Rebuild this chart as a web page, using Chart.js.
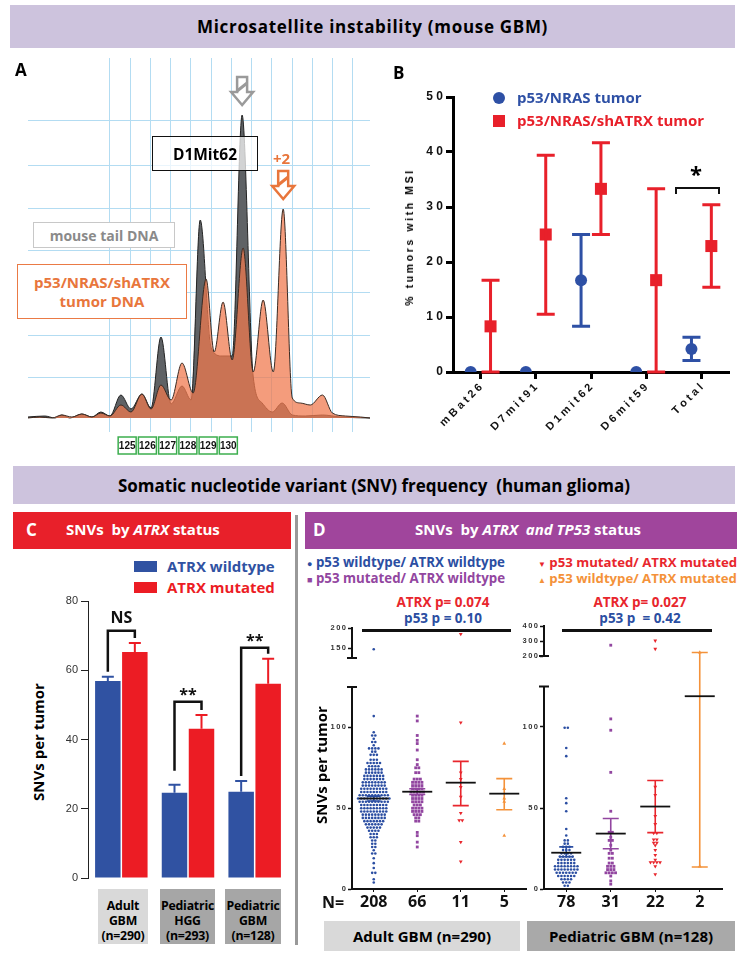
<!DOCTYPE html>
<html><head><meta charset="utf-8">
<script src="https://cdn.jsdelivr.net/npm/chart.js@4.4.1/dist/chart.umd.min.js"></script>
<style>
body{margin:0;background:#fff;font-family:'Open Sans',sans-serif;}
#page{position:relative;width:745px;height:961px;overflow:hidden;background:#fff;}
.a{position:absolute;white-space:nowrap;}
.cv{position:absolute;}
.rot{transform:translate(-50%,-50%) rotate(-90deg);}
.b{font-weight:700;}
.box{position:absolute;box-sizing:border-box;display:flex;align-items:center;justify-content:center;text-align:center;font-weight:700;}
</style></head><body><div id="page">

<div class="box" style="left:10px;top:5px;width:725px;height:43px;background:#cdc3dd;font-size:17px;letter-spacing:0.7px">Microsatellite instability (mouse GBM)</div>

<div class="cv" style="left:0;top:55px;width:370px;height:402px"><canvas id="cA"></canvas></div>
<div class="cv" style="left:380px;top:55px;width:365px;height:380px"><canvas id="cB"></canvas></div>

<div class="a b" style="left:15px;top:58px;font-size:17px">A</div>
<div class="a b" style="left:393px;top:61px;font-size:17px">B</div>

<div class="box" style="left:152px;top:136px;width:106px;height:35px;border:1.5px solid #111;background:rgba(255,255,255,0.72);font-size:15.5px">D1Mit62</div>
<div class="box" style="left:33px;top:222px;width:142px;height:26px;border:1.5px solid #c8c8c8;background:#fff;color:#8a8a8a;font-size:14px">mouse tail DNA</div>
<div class="box" style="left:17px;top:264px;width:170px;height:55px;border:1.5px solid #ea7a45;background:#fff;color:#e8763c;font-size:15px;line-height:19px">p53/NRAS/shATRX<br>tumor DNA</div>
<div class="a b" style="left:273px;top:148px;font-size:15px;color:#e8763c">+2</div>

<div class="a" style="left:493px;top:92px;width:12px;height:12px;border-radius:50%;background:#2e50a5"></div>
<div class="a b" style="left:517px;top:87px;font-size:15px;color:#2e50a5">p53/NRAS tumor</div>
<div class="a" style="left:493px;top:115px;width:12px;height:12px;background:#e8202a"></div>
<div class="a b" style="left:517px;top:110px;font-size:15px;color:#e8202a">p53/NRAS/shATRX tumor</div>
<div class="a rot" style="left:409px;top:237px;font:700 10.5px 'Liberation Sans';letter-spacing:2.6px">% tumors with MSI</div>
<div class="a" style="left:675px;top:187px;width:41px;height:5px;border:2.5px solid #111;border-bottom:none"></div>
<div class="a b" style="left:690px;top:158px;font-size:22px">*</div>

<div class="box" style="left:13px;top:466px;width:722px;height:38px;background:#cdc3dd;font-size:17px;">Somatic nucleotide variant (SNV) frequency&nbsp; (human glioma)</div>

<div class="a" style="left:13px;top:512px;width:278px;height:37px;background:#e8202a"></div>
<div class="a b" style="left:26px;top:518px;font-size:17px;color:#fff">C</div>
<div class="a b" style="left:66px;top:519px;font-size:15px;color:#fff">SNVs&nbsp; by <i>ATRX</i> status</div>

<div class="a" style="left:305px;top:512px;width:432px;height:37px;background:#a0459c"></div>
<div class="a b" style="left:313px;top:518px;font-size:17px;color:#fff">D</div>
<div class="a b" style="left:415px;top:519px;font-size:15px;color:#fff">SNVs&nbsp; by <i>ATRX&nbsp; and TP53</i> status</div>

<div class="a" style="left:295px;top:515px;width:3px;height:430px;background:#999"></div>

<div class="a" style="left:134px;top:561px;width:23px;height:11px;background:#3052a2"></div>
<div class="a b" style="left:167px;top:556px;font-size:15px;color:#3052a2">ATRX wildtype</div>
<div class="a" style="left:134px;top:582px;width:23px;height:11px;background:#ec1c24"></div>
<div class="a b" style="left:167px;top:577px;font-size:15px;color:#ec1c24">ATRX mutated</div>
<div class="a rot b" style="left:38px;top:742px;font-size:15px">SNVs per tumor</div>

<div class="cv" style="left:13px;top:590px;width:285px;height:300px"><canvas id="cC"></canvas></div>

<div id="cohortBoxes"></div>

<div class="a b" style="left:307px;top:553px;font-size:13.3px;color:#2b4ea2"><span style="font-size:9px">&#9679;</span> p53 wildtype/ ATRX wildtype</div>
<div class="a b" style="left:307px;top:569px;font-size:13.3px;color:#9246a0"><span style="font-size:9px">&#9632;</span> p53 mutated/ ATRX wildtype</div>
<div class="a b" style="left:538px;top:553px;font-size:13.2px;color:#e8262d"><span style="font-size:8px">&#9660;</span> p53 mutated/ ATRX mutated</div>
<div class="a b" style="left:538px;top:569px;font-size:13.2px;color:#f4923a"><span style="font-size:8px">&#9650;</span> p53 wildtype/ ATRX mutated</div>

<div class="box" style="left:363px;top:593px;width:160px;height:18px;font-size:13.5px;color:#e8262d">ATRX p= 0.074</div>
<div class="box" style="left:363px;top:609px;width:160px;height:18px;font-size:13.5px;color:#2b4ea2">p53 p = 0.10</div>
<div class="box" style="left:560px;top:593px;width:160px;height:18px;font-size:13.5px;color:#e8262d">ATRX p= 0.027</div>
<div class="box" style="left:560px;top:609px;width:160px;height:18px;font-size:13.5px;color:#2b4ea2">p53 p&nbsp; = 0.42</div>
<div class="a" style="left:362px;top:629px;width:149px;height:2.5px;background:#111"></div>
<div class="a" style="left:562px;top:629px;width:150px;height:2.5px;background:#111"></div>

<div class="cv" style="left:300px;top:620px;width:230px;height:63px"><canvas id="cDLu"></canvas></div>
<div class="cv" style="left:300px;top:680px;width:230px;height:230px"><canvas id="cDLl"></canvas></div>
<div class="cv" style="left:505px;top:618px;width:222px;height:62px"><canvas id="cDRu"></canvas></div>
<div class="cv" style="left:505px;top:680px;width:222px;height:230px"><canvas id="cDRl"></canvas></div>

<div class="a rot b" style="left:321px;top:765px;font-size:15px">SNVs per tumor</div>
<div class="a b" style="left:322px;top:891px;font-size:16px;color:#111">N=</div>

<div class="box" style="left:324px;top:921px;width:196px;height:30px;background:#d9d9d9;font-size:15px">Adult GBM (n=290)</div>
<div class="box" style="left:527px;top:921px;width:208px;height:30px;background:#a9a9a9;font-size:15px">Pediatric GBM (n=128)</div>

</div>
<script>
Chart.defaults.font.family = "'Liberation Sans', Arial, sans-serif";
Chart.defaults.animation = false;
Chart.defaults.responsive = true;
Chart.defaults.maintainAspectRatio = false;
Chart.defaults.plugins.legend.display = false;
Chart.defaults.plugins.tooltip.enabled = false;

// ============ A: D1Mit62 electropherogram ============
const sizeLabels = [125, 126, 127, 128, 129, 130];
// [size (bp), signal]
const tailTrace = [[120.09,1],[120.93,2],[121.43,0],[121.77,3],[122.17,0],[122.76,4],[123.26,1],[123.7,6],[124.15,2],[124.69,23],[125.19,9],[125.73,24],[126.18,10],[126.67,81],[127.17,14],[127.71,32],[128.16,18],[128.61,198],[129.15,70],[129.69,62],[130.19,62],[130.68,303],[131.23,41],[131.67,15],[132.17,6],[132.66,15],[133.16,3],[133.8,2],[134.65,3],[135.54,1],[137.0,0]];
const tumorTrace = [[120.09,0],[120.68,1],[121.28,0],[121.77,3],[122.27,1],[122.76,4],[123.26,1],[123.7,5],[124.15,2],[124.69,13],[125.19,6],[125.73,24],[126.18,9],[126.67,33],[127.17,18],[127.71,55],[128.26,25],[128.9,139],[129.3,66],[129.74,116],[130.19,58],[130.73,170],[131.23,46],[131.72,118],[132.22,46],[132.71,209],[133.16,20],[133.56,15],[134.05,13],[134.65,23],[135.14,5],[135.78,2],[136.53,1],[137.0,0]];
const gridBp = [];
for (let k = 0; k <= 12; k++) gridBp.push(124.15 + k);
const gridSignal = [41, 83, 126, 168, 210, 253, 298];

function peakOf(tr) { return tr.reduce((m, p) => p[1] > m[1] ? p : m); }

function drawArrow(ctx, cx, tip, color) {
  ctx.beginPath();
  ctx.moveTo(cx, tip);
  ctx.lineTo(cx - 11, tip - 13);
  ctx.lineTo(cx - 5, tip - 13);
  ctx.lineTo(cx - 5, tip - 28);
  ctx.lineTo(cx + 5, tip - 28);
  ctx.lineTo(cx + 5, tip - 13);
  ctx.lineTo(cx + 11, tip - 13);
  ctx.closePath();
  ctx.fillStyle = '#fff'; ctx.fill();
  ctx.strokeStyle = color; ctx.lineWidth = 2.5; ctx.stroke();
  ctx.beginPath(); ctx.moveTo(cx - 5, tip - 14); ctx.lineTo(cx + 5, tip - 22); ctx.lineWidth = 3; ctx.stroke();
}

const traceMarks = {
  id: 'traceMarks',
  afterDatasetsDraw(chart) {
    const { ctx, chartArea } = chart, x = chart.scales.x, y = chart.scales.y;
    ctx.save();
    const p1 = peakOf(tailTrace), p2 = peakOf(tumorTrace);
    drawArrow(ctx, x.getPixelForValue(p1[0]), y.getPixelForValue(p1[1]) - 10, '#9a9a9a');
    drawArrow(ctx, x.getPixelForValue(p2[0]), y.getPixelForValue(p2[1]) - 10, '#e8763c');
    ctx.font = 'bold 10px "Liberation Sans"'; ctx.textAlign = 'center'; ctx.textBaseline = 'middle';
    sizeLabels.forEach(s => {
      const cx = x.getPixelForValue(s), top = chartArea.bottom + 5;
      ctx.fillStyle = '#fff'; ctx.fillRect(cx - 9, top, 18, 17);
      ctx.strokeStyle = '#3cae4e'; ctx.lineWidth = 1.5; ctx.strokeRect(cx - 9, top, 18, 17);
      ctx.fillStyle = '#111'; ctx.fillText(String(s), cx, top + 9);
    });
    ctx.restore();
  }
};

new Chart(document.getElementById('cA'), {
  type: 'line',
  data: { datasets: [
    { data: tumorTrace.map(p => ({ x: p[0], y: p[1] })), order: 1, fill: 'origin',
      backgroundColor: 'rgba(240,122,78,0.74)', borderColor: '#3a2a22', borderWidth: 1, cubicInterpolationMode: 'monotone', pointRadius: 0 },
    { data: tailTrace.map(p => ({ x: p[0], y: p[1] })), order: 2, fill: 'origin',
      backgroundColor: '#5f6265', borderColor: '#222', borderWidth: 1, cubicInterpolationMode: 'monotone', pointRadius: 0 }
  ] },
  options: {
    layout: { padding: { top: 3 } },
    scales: {
      x: { type: 'linear', min: 120.1, max: 137,
        afterBuildTicks: s => { s.ticks = gridBp.map(v => ({ value: v })); },
        ticks: { display: false }, grid: { color: '#b3dcf2', drawTicks: false }, border: { display: false },
        afterFit: s => { s.height = 25; } },
      y: { min: -14, max: 360,
        afterBuildTicks: s => { s.ticks = gridSignal.map(v => ({ value: v })); },
        ticks: { display: false }, grid: { color: '#b3dcf2', drawTicks: false }, border: { display: false },
        afterFit: s => { s.width = 28; } }
    }
  },
  plugins: [traceMarks]
});

// ============ B: % tumors with MSI ============
const msiMarkers = ['mBat26', 'D7mit91', 'D1mit62', 'D6mit59', 'Total'];
const msiParental = [0, 0, 16.7, 0, 4.2];
const msiParentalLo = [null, null, 8.3, null, 2.1];
const msiParentalHi = [null, null, 25, null, 6.3];
const msiShAtrx = [8.3, 25, 33.3, 16.7, 22.9];
const msiShAtrxLo = [0, 10.5, 25, 0, 15.4];
const msiShAtrxHi = [16.7, 39.4, 41.7, 33.3, 30.4];
const dodge = 0.18;

const msiErrors = {
  id: 'msiErrors',
  afterDatasetsDraw(chart) {
    const { ctx } = chart, x = chart.scales.x, y = chart.scales.y;
    ctx.save();
    chart.data.datasets.forEach(ds => {
      ds.data.forEach((p, i) => {
        if (ds.errLo[i] == null) return;
        const cx = x.getPixelForValue(p.x), yl = y.getPixelForValue(ds.errLo[i]), yh = y.getPixelForValue(ds.errHi[i]);
        ctx.strokeStyle = ds.backgroundColor; ctx.lineWidth = 3;
        ctx.beginPath();
        ctx.moveTo(cx, yl); ctx.lineTo(cx, yh);
        ctx.moveTo(cx - 9, yl); ctx.lineTo(cx + 9, yl);
        ctx.moveTo(cx - 9, yh); ctx.lineTo(cx + 9, yh);
        ctx.stroke();
      });
    });
    ctx.restore();
  }
};

new Chart(document.getElementById('cB'), {
  type: 'scatter',
  data: { datasets: [
    { data: msiParental.map((v, i) => ({ x: i - dodge, y: v })), errLo: msiParentalLo, errHi: msiParentalHi,
      backgroundColor: '#2e50a5', pointStyle: 'circle', pointRadius: 6, borderWidth: 0 },
    { data: msiShAtrx.map((v, i) => ({ x: i + dodge, y: v })), errLo: msiShAtrxLo, errHi: msiShAtrxHi,
      backgroundColor: '#e8202a', pointStyle: 'rect', pointRadius: 8.5, borderWidth: 0 }
  ] },
  options: {
    layout: { padding: { top: 42, right: 16 } },
    scales: {
      x: { type: 'linear', min: -0.5, max: 4.5,
        afterBuildTicks: s => { s.ticks = msiMarkers.map((m, i) => ({ value: i })); },
        ticks: { callback: v => msiMarkers[v].split('').join(' '), minRotation: 45, maxRotation: 45, autoSkip: false,
          font: { size: 11, weight: 'bold' }, color: '#111', padding: 2 },
        grid: { drawOnChartArea: false, tickLength: 7, tickWidth: 3, tickColor: '#000' },
        border: { width: 3, color: '#000' },
        afterFit: s => { s.height = 63; } },
      y: { min: 0, max: 50,
        ticks: { stepSize: 10, callback: v => String(v).split('').join(' '), font: { size: 12, weight: 'bold' }, color: '#111', padding: 3 },
        grid: { drawOnChartArea: false, tickLength: 7, tickWidth: 3, tickColor: '#000' },
        border: { width: 3, color: '#000' },
        afterFit: s => { s.width = 73; } }
    }
  },
  plugins: [msiErrors]
});

// ============ C: SNVs by ATRX status ============
const cohortsC = [['Adult', 'GBM', '(n=290)'], ['Pediatric', 'HGG', '(n=293)'], ['Pediatric', 'GBM', '(n=128)']];
const snvWt = [56.9, 24.6, 24.9];
const snvWtErr = [58.1, 26.9, 28.0];
const snvMut = [65.3, 43.1, 56.1];
const snvMutErr = [67.9, 47.1, 63.3];
const sigLabels = ['NS', '**', '**'];
const sigBracket = [71.4, 50.9, 66.5];

const barMarks = {
  id: 'barMarks',
  afterDatasetsDraw(chart) {
    const { ctx } = chart, y = chart.scales.y;
    ctx.save();
    const metas = [chart.getDatasetMeta(0), chart.getDatasetMeta(1)];
    chart.data.datasets.forEach((ds, d) => {
      metas[d].data.forEach((bar, i) => {
        const yh = y.getPixelForValue(ds.errHi[i]);
        ctx.strokeStyle = ds.backgroundColor; ctx.lineWidth = 2;
        ctx.beginPath(); ctx.moveTo(bar.x, bar.y); ctx.lineTo(bar.x, yh);
        ctx.moveTo(bar.x - 6, yh); ctx.lineTo(bar.x + 6, yh); ctx.stroke();
      });
    });
    ctx.strokeStyle = '#111'; ctx.lineWidth = 2.5; ctx.fillStyle = '#111';
    ctx.font = 'bold 16px "Open Sans"'; ctx.textAlign = 'center'; ctx.textBaseline = 'alphabetic';
    sigLabels.forEach((lab, i) => {
      const b0 = metas[0].data[i], b1 = metas[1].data[i];
      const top = y.getPixelForValue(sigBracket[i]);
      const l0 = y.getPixelForValue(snvWtErr[i]) - (i === 1 ? 14 : 5), l1 = y.getPixelForValue(snvMutErr[i]) - 5;
      ctx.beginPath(); ctx.moveTo(b0.x, l0); ctx.lineTo(b0.x, top); ctx.lineTo(b1.x, top); ctx.lineTo(b1.x, l1); ctx.stroke();
      ctx.fillText(lab, (b0.x + b1.x) / 2, top - (lab === 'NS' ? 8 : 2));
    });
    ctx.restore();
  }
};

new Chart(document.getElementById('cC'), {
  type: 'bar',
  data: { labels: cohortsC.map(c => c.join(' ')), datasets: [
    { data: snvWt, errHi: snvWtErr, backgroundColor: '#3052a2', barPercentage: 0.944, categoryPercentage: 0.81 },
    { data: snvMut, errHi: snvMutErr, backgroundColor: '#ec1c24', barPercentage: 0.944, categoryPercentage: 0.81 }
  ] },
  options: {
    layout: { padding: { top: 11, right: 10 } },
    scales: {
      x: { ticks: { display: false }, grid: { display: false }, border: { display: false }, afterFit: s => { s.height = 12; } },
      y: { min: 0, max: 80, ticks: { stepSize: 20, font: { size: 11 }, color: '#333', padding: 3 },
        grid: { drawOnChartArea: false, tickLength: 7, tickColor: '#222' }, border: { color: '#222', width: 1 },
        afterFit: s => { s.width = 75; } }
    }
  },
  plugins: [barMarks]
});

const boxPos = [[98, 50, '#d9d9d9'], [160, 55, '#a6a6a6'], [225, 56, '#a6a6a6']];
document.getElementById('cohortBoxes').innerHTML = cohortsC.map((c, i) =>
  `<div class="a" style="left:${boxPos[i][0]}px;top:889px;width:${boxPos[i][1]}px;height:55px;background:${boxPos[i][2]};
   font:700 12.3px 'Open Sans';text-align:center;line-height:15px;padding-top:9px;box-sizing:border-box;letter-spacing:-0.2px">${c.join('<br>')}</div>`).join('');

// ============ D: SNVs by ATRX and TP53 status ============
// beeswarm rows: [SNVs per tumor, dots in the row]
const adultWtRows = [[147,1],[107,1],[97,1],[95,2],[93,1],[91,2],[89,1],[87,4],[85,2],[83,3],[80,3],[78,5],[76,4],[74,6],[72,6],[70,7],[68,7],[66,8],[64,8],[62,9],[60,9],[58,10],[56,11],[54,10],[52,9],[50,9],[48,9],[46,8],[44,8],[42,7],[40,6],[38,5],[36,4],[34,3],[32,3],[30,2],[28,2],[26,2],[24,1],[22,2],[19,1],[16,1],[13,1],[10,2],[6,1],[4,1]];
const adultP53Rows = [[107,1],[104,1],[95,1],[92,1],[90,1],[86,1],[80,1],[77,1],[75,2],[72,2],[68,3],[66,4],[64,4],[62,4],[60,5],[58,4],[56,4],[54,4],[52,3],[50,4],[48,4],[46,3],[44,2],[42,2],[35,1],[33,1],[29,1],[26,1]];
const adultBothRows = [[185,1],[103,1],[72,1],[68,1],[63,1],[57,1],[47,1],[42.5,2],[29,1],[17,1]];
const adultAtrxRows = [[90,1],[62,1],[56,1],[54,1],[33,1]];
const pedWtRows = [[99.5,2],[87,1],[82,1],[56,1],[53,1],[48,1],[37,1],[33,1],[30,2],[28,2],[26,3],[24,3],[22,4],[20,5],[18,6],[16,6],[14,8],[12,8],[10,7],[8,6],[6,4],[4,3],[2,2]];
const pedP53Rows = [[272,1],[105,1],[98,1],[72,1],[48,1],[35,2],[32,1],[30,2],[27,1],[24,1],[22,2],[19,2],[16,2],[14,3],[12,3],[10,4],[8,1],[5,1],[3,1]];
const pedBothRows = [[302,1],[247,1],[63,1],[58,1],[45,1],[40,1],[34.5,2],[30.5,2],[28.5,2],[27,1],[24,1],[21,1],[18,1],[16.5,4],[14,1],[9,1]];
const pedAtrxRows = [[224,1],[14,1]];

const adultN = [208, 66, 11, 5];
const pedN = [78, 31, 22, 2];
const adultMeans = [56, 60.2, 65.8, 59];
const adultLo = [54.5, 58.5, 51.6, 49];
const adultHi = [57.5, 62, 79, 68.3];
const pedMeans = [22.4, 34.2, 50.9, 119];
const pedLo = [19.9, 24.8, 34.8, 13.6];
const pedHi = [26, 43.5, 67, 223];

const groupColors = ['#2b4ea2', '#9246a0', '#e8262d', '#f4923a'];
const groupShapes = ['circle', 'rect', 'triangle', 'triangle'];
const groupRotation = [0, 0, 180, 0];
const groupRadius = [1.3, 2.0, 2.2, 2.2];
const pitch = 0.072;

function swarm(rows, cat) {
  const pts = [];
  rows.forEach(([v, n]) => { for (let k = 0; k < n; k++) pts.push({ x: cat + (k - (n - 1) / 2) * pitch, y: v }); });
  return pts;
}

const meanErr = {
  id: 'meanErr',
  afterDatasetsDraw(chart, args, o) {
    const { ctx, chartArea } = chart, x = chart.scales.x, y = chart.scales.y;
    ctx.save();
    o.means.forEach((m, i) => {
      const cx = x.getPixelForValue(i), lo = o.lo[i], hi = o.hi[i];
      const cap = i === 0 ? 7 : 8;
      ctx.strokeStyle = groupColors[i]; ctx.lineWidth = 1.6;
      if (hi > y.min && lo < y.max) {
        const yt = hi > y.max ? 0 : y.getPixelForValue(hi);
        const yb = lo < y.min ? chart.height : y.getPixelForValue(lo);
        ctx.beginPath(); ctx.moveTo(cx, yt); ctx.lineTo(cx, yb);
        if (hi <= y.max) { ctx.moveTo(cx - cap, yt); ctx.lineTo(cx + cap, yt); }
        if (lo >= y.min) { ctx.moveTo(cx - cap, yb); ctx.lineTo(cx + cap, yb); }
        ctx.stroke();
      }
      if (m >= y.min && m <= y.max) {
        const ym = y.getPixelForValue(m);
        ctx.strokeStyle = '#111'; ctx.lineWidth = 1.8;
        ctx.beginPath(); ctx.moveTo(cx - 15, ym); ctx.lineTo(cx + 15, ym); ctx.stroke();
      }
    });
    // axis break cap
    const xa = chartArea.left, yc = o.upper ? chartArea.bottom : chartArea.top;
    ctx.strokeStyle = '#111'; ctx.lineWidth = 2;
    ctx.beginPath(); ctx.moveTo(xa - 5, yc); ctx.lineTo(xa + 5, yc); ctx.stroke();
    ctx.restore();
  }
};

function swarmChart(id, groups, nLabels, stats, seg) {
  const datasets = groups.map((rows, g) => ({
    data: swarm(rows, g).filter(p => seg.upper ? p.y > seg.min : p.y <= seg.max),
    backgroundColor: groupColors[g], pointStyle: groupShapes[g], rotation: groupRotation[g],
    pointRadius: groupRadius[g], borderWidth: 0
  }));
  new Chart(document.getElementById(id), {
    type: 'scatter',
    data: { datasets },
    options: {
      clip: false,
      layout: { padding: seg.padding },
      plugins: { meanErr: { means: stats[0], lo: stats[1], hi: stats[2], upper: seg.upper } },
      scales: {
        x: { type: 'linear', min: -0.5, max: 3.5, display: !seg.upper,
          afterBuildTicks: s => { s.ticks = nLabels.map((n, i) => ({ value: i })); },
          ticks: { callback: v => String(nLabels[v]), font: { family: "'Open Sans'", size: 16, weight: 'bold' }, color: '#111', padding: 1, maxRotation: 0 },
          grid: { drawOnChartArea: false, tickLength: 3, tickColor: '#111' },
          border: { width: 2, color: '#111' },
          afterFit: s => { s.height = 21; } },
        y: { min: seg.min, max: seg.max,
          afterBuildTicks: s => { s.ticks = seg.ticks.map(v => ({ value: v })); },
          ticks: { callback: v => String(v).split('').join('\u2009'), font: { size: 7.5, weight: 'bold' }, color: '#333', padding: 2 },
          grid: { drawOnChartArea: false, tickLength: 4, tickWidth: 1.5, tickColor: '#111' },
          border: { width: 2, color: '#111' },
          afterFit: s => { s.width = seg.axisW; } }
      }
    },
    plugins: [meanErr]
  });
}

const adultGroups = [adultWtRows, adultP53Rows, adultBothRows, adultAtrxRows];
const pedGroups = [pedWtRows, pedP53Rows, pedBothRows, pedAtrxRows];
const adultStats = [adultMeans, adultLo, adultHi];
const pedStats = [pedMeans, pedLo, pedHi];

swarmChart('cDLl', adultGroups, adultN, adultStats, { upper: false, min: 0, max: 125, ticks: [0, 50, 100], axisW: 52, padding: { top: 7 } });
swarmChart('cDLu', adultGroups, adultN, adultStats, { upper: true, min: 125, max: 200, ticks: [150, 200], axisW: 52, padding: { top: 8, bottom: 4 } });
swarmChart('cDRl', pedGroups, pedN, pedStats, { upper: false, min: 0, max: 125, ticks: [0, 50, 100], axisW: 39, padding: { top: 6, right: 5 } });
swarmChart('cDRu', pedGroups, pedN, pedStats, { upper: true, min: 200, max: 400, ticks: [200, 300, 400], axisW: 39, padding: { top: 8, bottom: 3, right: 5 } });
</script>
</body></html>
